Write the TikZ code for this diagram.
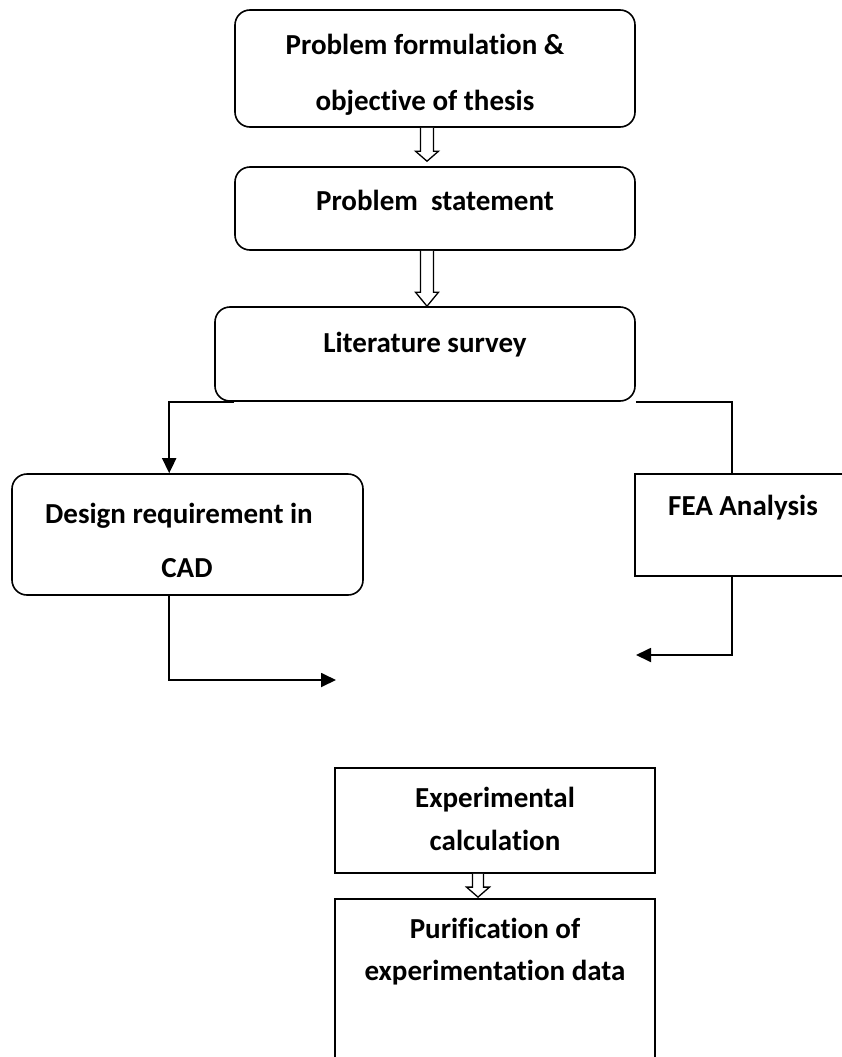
\documentclass[tikz,border=0pt]{standalone}
\usepackage{fontspec}
\setmainfont[Ligatures={NoCommon}]{Carlito}
\usetikzlibrary{calc,arrows.meta}
\tikzset{
  rbox/.style={draw, line width=1.6pt, rounded corners=15pt, inner sep=0pt},
  sbox/.style={draw, line width=1.8pt, inner sep=0pt},
  txt/.style={anchor=base, inner sep=0pt, font=\fontsize{29}{35}\selectfont\bfseries},
  conn/.style={line width=1.8pt, -{Triangle[length=15pt,width=14pt]}},
  plainconn/.style={line width=1.8pt},
  hollow/.style={draw, line width=1.3pt, fill=white, line join=miter}
}
\begin{document}
\begin{tikzpicture}[x=1pt,y=-1pt]
\useasboundingbox (0,0) rectangle (842,1057);
\clip (0,0) rectangle (842,1057);
% boxes
\node[rbox, minimum width=400pt, minimum height=117pt] (b1) at (435,68.5) {};
\node[rbox, minimum width=400pt, minimum height=83pt] (b2) at (435,208.5) {};
\node[rbox, minimum width=420pt, minimum height=94pt] (b3) at (425,354) {};
\node[rbox, minimum width=351pt, minimum height=121pt] (design) at (187.5,534.5) {};
\node[sbox, minimum width=220pt, minimum height=102pt] (fea) at (745,525) {};
\node[sbox, minimum width=320pt, minimum height=105pt] (exp) at (495,820.5) {};
\node[sbox, minimum width=320pt, minimum height=181pt] (pur) at (495,989.5) {};
% texts
\node[txt] (t1a) at (425,55) {Problem formulation \&};
\node[txt] (t1b) at (425,110) {objective of thesis};
\node[txt] (t2) at (435,210) {Problem\ \ statement};
\node[txt] (t3) at (425,352) {Literature survey};
\node[txt] (t4a) at (179,523) {Design requirement in};
\node[txt] (t4b) at (187,577) {CAD};
\node[txt] (t5) at (743,515) {FEA Analysis};
\node[txt] (t6a) at (495,807) {Experimental};
\node[txt] (t6b) at (495,850) {calculation};
\node[txt] (t7a) at (495,938) {Purification of};
\node[txt] (t7b) at (495,980) {experimentation data};
% hollow arrows
\coordinate (a1s) at ($(b1.south)+(-8,0)$);
\coordinate (a1e) at ($(b2.north)+(-8,-5)$);
\draw[hollow] ($(a1s)+(-6.5,0)$) -- ($(a1e)+(-6.5,-10)$) -- ($(a1e)+(-11.5,-10)$) -- (a1e) -- ($(a1e)+(11.5,-10)$) -- ($(a1e)+(6.5,-10)$) -- ($(a1s)+(6.5,0)$);
\coordinate (a2s) at ($(b2.south)+(-8,0)$);
\coordinate (a2e) at ($(b3.north)+(2,0)$);
\draw[hollow] ($(a2s)+(-6.5,0)$) -- ($(a2e)+(-6.5,-14)$) -- ($(a2e)+(-11.5,-14)$) -- (a2e) -- ($(a2e)+(11.5,-14)$) -- ($(a2e)+(6.5,-14)$) -- ($(a2s)+(6.5,0)$);
\coordinate (a3s) at ($(exp.south)+(-17,0)$);
\coordinate (a3e) at ($(pur.north)+(-17,-1)$);
\draw[hollow] ($(a3s)+(-5.5,0)$) -- ($(a3e)+(-5.5,-10)$) -- ($(a3e)+(-11.5,-10)$) -- (a3e) -- ($(a3e)+(11.5,-10)$) -- ($(a3e)+(5.5,-10)$) -- ($(a3s)+(5.5,0)$);
% connectors
\draw[conn] ($(b3.south west)+(20,0)$) -| ($(design.north west)+(158,0)$);
\draw[plainconn] (b3.south east) -| ($(fea.north west)+(98,0)$);
\coordinate (fend) at (636,655);
\draw[conn] ($(fea.south west)+(98,0)$) |- (fend);
\coordinate (dend) at (336,680);
\draw[conn] ($(design.south west)+(158,0)$) |- (dend);
\end{tikzpicture}
\end{document}
